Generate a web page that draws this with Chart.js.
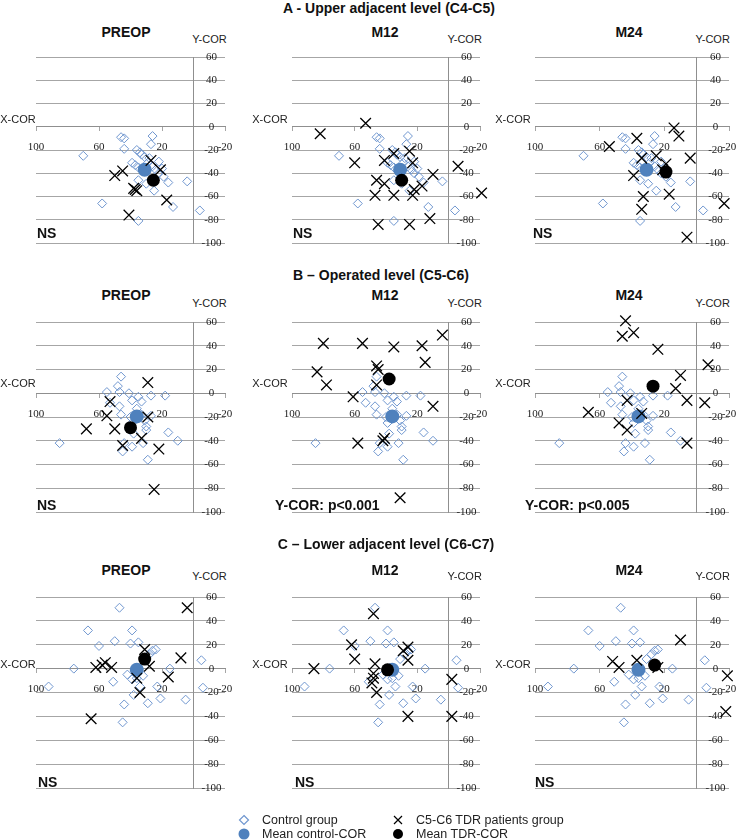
<!DOCTYPE html>
<html>
<head>
<meta charset="utf-8">
<script src="https://cdn.jsdelivr.net/npm/chart.js@4.4.1/dist/chart.umd.min.js"></script>
<style>
  html, body { margin: 0; padding: 0; background: #fff; width: 738px; height: 840px; overflow: hidden; }
  #fig { position: relative; width: 738px; height: 840px; font-family: "Liberation Sans", Arial, sans-serif; color: #111; }
  #fig canvas { position: absolute; }
  .lbl { position: absolute; transform: translate(-50%, -50%); white-space: nowrap; line-height: 1; }
  .lbl.left { transform: translate(0, -50%); }
  .row-title, .p-title, .note { font-weight: bold; font-size: 14px; }
  .axis-t { font-size: 11px; color: #222; }
  .legend { position: absolute; font-size: 12.5px; color: #222; display: flex; align-items: center; transform: translateY(-50%); }
  .legend svg { margin-right: 12px; }
</style>
</head>
<body>
<div id="fig"></div>
<script>
// tick labels (shared by every panel)
const X_TICKS = [100, 60, 20, -20];
const Y_TICKS = [60, 40, 20, 0, -20, -40, -60, -80, -100];

const ROW_TITLES = ['A - Upper adjacent level (C4-C5)', 'B \u2013 Operated level (C5-C6)', 'C \u2013 Lower adjacent level (C6-C7)'];
const PANEL_TITLES = ['PREOP', 'M12', 'M24'];
const NOTES = [
  ['NS', 'NS', 'NS'],
  ['NS', 'Y-COR: p<0.001', 'Y-COR: p<0.005'],
  ['NS', 'NS', 'NS'],
];

// control group: same cloud at every time point of a level  [X-COR, Y-COR]
const controlA = [[46,-9],[44,-10],[26,-8],[27,-15],[70,-25],[44,-19],[36,-20],[34,-22],[33,-24],[31,-26],
  [39,-31],[37,-33],[35,-35],[29,-31],[26,-34],[24,-37],[22,-40],[19,-43],[16,-48],[4,-47],
  [35,-46],[30,-49],[25,-55],[58,-66],[13,-69],[-4,-72],[35,-81],[20,-36],[22,-30],[28,-27]];
const controlB = [[46,14],[48,6],[55,1],[47,1],[41,0],[53,-8],[47,-11],[39,-6],[35,-3],[33,-7],
  [27,-2],[18,-2],[46,-18],[40,-20],[39,-25],[33,-18],[31,-23],[30,-28],[30,-31],[27,-19],
  [38,-34],[44,-42],[39,-45],[45,-49],[32,-42],[29,-56],[16,-33],[10,-40],[85,-42],[36,-13]];
const controlC = [[47,51],[67,32],[39,32],[50,23],[40,21],[35,22],[60,19],[76,0],[24,16],[26,15],
  [28,12],[31,8],[15,0],[-5,7],[92,-15],[-6,-16],[51,-11],[42,-5],[39,-9],[36,-8],
  [32,-6],[34,-15],[38,-22],[44,-30],[29,-29],[21,-25],[23,-15],[5,-26],[45,-45]];
const meanControl = [[31,-37], [36,-19.5], [36,-1]];

// C5-C6 TDR patients, per level and time point
const tdrA_pre = [[50,-42],[45,-38],[27,-29],[21,-37],[38,-53],[36,-55],[37,-54],[17,-63],[41,-76]];
const tdrA_m12 = [[82,-6],[53,3],[60,-31],[41,-29],[35,-23],[25,-21],[23,-31],[46,-46],[41,-49],[47,-59],
  [35,-59],[23,-59],[22,-54],[17,-51],[10,-41],[-6,-34],[-21,-57],[12,-79],[45,-84],[25,-84]];
const tdrA_m24 = [[14,-1],[11,-8],[37,-10],[54,-17],[25,-25],[34,-27],[4,-27],[19,-32],[39,-42],[21,-37],
  [33,-60],[17,-58],[34,-71],[-17,-66],[6,-95]];
const tdrB_pre = [[29,9],[53,-7],[55,-19],[68,-30],[50,-30],[29,-20],[33,-38],[45,-44],[22,-47],[25,-81]];
const tdrB_m12 = [[80,42],[55,42],[35,39],[17,40],[4,49],[15,26],[46,23],[45,20],[84,18],[78,7],
  [46,7],[61,-3],[10,-11],[58,-42],[42,-40],[41,-38],[31,-88]];
const tdrB_m24 = [[44,61],[46,48],[39,51],[24,37],[-7,24],[10,15],[13,4],[6,-6],[-5,-8],[43,-6],
  [67,-16],[34,-17],[48,-25],[43,-31],[6,-42]];
const tdrC_pre = [[4,51],[8,9],[31,16],[28,2],[16,-7],[56,5],[62,1],[52,1],[58,3],[36,-8],[34,-20],[65,-42]];
const tdrC_m12 = [[86,0],[48,46],[62,20],[60,8],[47,4],[48,-4],[48,-8],[49,-12],[46,-20],[29,15],
  [26,18],[26,7],[-2,-9],[26,-40],[-2,-40]];
const tdrC_m24 = [[10,24],[52,6],[48,1],[37,7],[24,1],[-19,-6],[-18,-36]];

const meanTdr = [
  [[25.5,-46], [30,-46], [19,-39]],
  [[40,-29], [38,12], [27,6]],
  [[31,8], [39,-1], [26,3]],
];

const CONTROL = [controlA, controlB, controlC];
const TDR = [[tdrA_pre, tdrA_m12, tdrA_m24], [tdrB_pre, tdrB_m12, tdrB_m24], [tdrC_pre, tdrC_m12, tdrC_m24]];

// ---- layout (pixels) ----
const ROWS = [
  { top: 57,  height: 186, titleX: 389, titleY: 8,   headY: 32,  ycorY: 39,  xcorY: 119, noteY: 233 },
  { top: 322, height: 190, titleX: 381, titleY: 275, headY: 295, ycorY: 303, xcorY: 383, noteY: 505 },
  { top: 597, height: 191, titleX: 386, titleY: 544, headY: 570, ycorY: 576, xcorY: 664, noteY: 782 },
];
const COLS = [
  { left: 36,  width: 189, headX: 126, xcorX: 18 },
  { left: 292, width: 188, headX: 385, xcorX: 270 },
  { left: 535, width: 194, headX: 629, xcorX: 513 },
];
const NOTE_X = [[37, 293, 533], [37, 275, 525], [38, 295, 535]];

const GRID = '#a6a6a6';
const AXIS = '#8f8f8f';
const DIAMOND = '#6f96cf';
const BLUE = '#4f81bd';
const TICK_FONT = { family: '"Liberation Serif", "Times New Roman", serif', size: 11 };
const PAD = { left: 30, right: 20, top: 10, bottom: 10 };
// y labels are mirrored into the strip between X-COR 0 and -20; the negative
// padding is balanced by an (undrawn) tick length so the axis keeps zero width
const Y_LABEL_SHIFT = -3.4;

const fig = document.getElementById('fig');

function addLabel(text, x, y, cls, left) {
  const d = document.createElement('div');
  d.className = 'lbl ' + cls + (left ? ' left' : '');
  d.textContent = text;
  d.style.left = x + 'px';
  d.style.top = y + 'px';
  fig.appendChild(d);
}

const toXY = arr => arr.map(([x, y]) => ({ x, y }));
const ascending = arr => [...arr].sort((a, b) => a - b).map(v => ({ value: v }));

function makePanel(r, c) {
  const row = ROWS[r], col = COLS[c];
  const canvas = document.createElement('canvas');
  canvas.width = col.width + PAD.left + PAD.right;
  canvas.height = row.height + PAD.top + PAD.bottom;
  canvas.style.left = (col.left - PAD.left) + 'px';
  canvas.style.top = (row.top - PAD.top) + 'px';
  fig.appendChild(canvas);

  const xMin = Math.min(...X_TICKS), xMax = Math.max(...X_TICKS);
  const yMin = Math.min(...Y_TICKS), yMax = Math.max(...Y_TICKS);

  new Chart(canvas.getContext('2d'), {
    type: 'scatter',
    data: {
      datasets: [
        { label: 'Mean TDR-COR', data: toXY([meanTdr[r][c]]), order: 0, clip: false,
          pointStyle: 'circle', pointRadius: 6.5, pointBackgroundColor: '#000', pointBorderColor: '#000', pointBorderWidth: 0 },
        { label: 'C5-C6 TDR patients group', data: toXY(TDR[r][c]), order: 1, clip: false,
          pointStyle: 'crossRot', pointRadius: 7.5, pointBorderColor: '#000', pointBorderWidth: 1.3 },
        { label: 'Mean control-COR', data: toXY([meanControl[r]]), order: 2, clip: false,
          pointStyle: 'circle', pointRadius: 7, pointBackgroundColor: BLUE, pointBorderColor: BLUE, pointBorderWidth: 0 },
        { label: 'Control group', data: toXY(CONTROL[r]), order: 3, clip: false,
          pointStyle: 'rectRot', pointRadius: 4.5, pointBackgroundColor: 'rgba(0,0,0,0)', pointBorderColor: DIAMOND, pointBorderWidth: 1 },
      ]
    },
    options: {
      responsive: false,
      animation: false,
      events: [],
      layout: { padding: PAD },
      plugins: { legend: { display: false }, tooltip: { enabled: false } },
      scales: {
        x: {
          type: 'linear', reverse: true, min: xMin, max: xMax,
          position: { y: 0 },
          afterBuildTicks: s => { s.ticks = ascending(X_TICKS); },
          grid: { drawOnChartArea: false, drawTicks: true, tickLength: 4, color: GRID },
          border: { color: AXIS },
          ticks: { font: TICK_FONT, color: '#222', padding: 10, maxRotation: 0, autoSkip: false },
        },
        y: {
          type: 'linear', min: yMin, max: yMax,
          position: { x: 0 },
          afterBuildTicks: s => { s.ticks = ascending(Y_TICKS); },
          grid: { color: GRID, drawTicks: false },
          border: { color: AXIS },
          ticks: { display: false },
        },
        y2: {
          type: 'linear', display: true, position: 'right', min: yMin, max: yMax,
          afterBuildTicks: s => { s.ticks = ascending(Y_TICKS); },
          grid: { display: false, drawTicks: true, tickLength: -2 * Y_LABEL_SHIFT },
          border: { display: false },
          ticks: { mirror: true, crossAlign: 'center', padding: Y_LABEL_SHIFT, font: TICK_FONT, color: '#222', autoSkip: false },
        },
      }
    }
  });

  const axisX = col.left + col.width * (xMax - 0) / (xMax - xMin);
  addLabel(PANEL_TITLES[c], col.headX, row.headY, 'p-title');
  addLabel('Y-COR', axisX + 16, row.ycorY, 'axis-t');
  addLabel('X-COR', col.xcorX, row.xcorY, 'axis-t');
  addLabel(NOTES[r][c], NOTE_X[r][c], row.noteY, 'note', true);
}

ROWS.forEach((row, r) => {
  addLabel(ROW_TITLES[r], row.titleX, row.titleY, 'row-title');
  COLS.forEach((col, c) => makePanel(r, c));
});

// legend
const MARK = {
  diamond: '<svg width="12" height="12"><path d="M6 1.5 L10.5 6 L6 10.5 L1.5 6 Z" fill="none" stroke="' + DIAMOND + '" stroke-width="1.2"/></svg>',
  cross: '<svg width="12" height="12"><path d="M2 2 L10 10 M10 2 L2 10" stroke="#000" stroke-width="1.2"/></svg>',
  blue: '<svg width="12" height="12"><circle cx="6" cy="6" r="5.5" fill="' + BLUE + '"/></svg>',
  black: '<svg width="12" height="12"><circle cx="6" cy="6" r="5" fill="#000"/></svg>',
};
const LEGEND = [
  ['diamond', 'Control group', 238, 820],
  ['cross', 'C5-C6 TDR patients group', 392, 820],
  ['blue', 'Mean control-COR', 238, 834],
  ['black', 'Mean TDR-COR', 392, 834],
];
LEGEND.forEach(([m, text, x, y]) => {
  const d = document.createElement('div');
  d.className = 'legend';
  d.style.left = x + 'px';
  d.style.top = y + 'px';
  d.innerHTML = MARK[m] + '<span></span>';
  d.lastChild.textContent = text;
  fig.appendChild(d);
});
</script>
</body>
</html>
